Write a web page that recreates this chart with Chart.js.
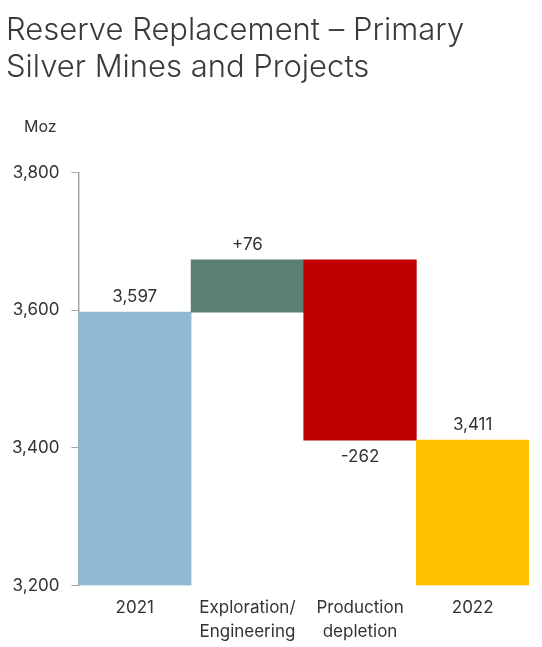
<!DOCTYPE html>
<html>
<head>
<meta charset="utf-8">
<script src="https://cdn.jsdelivr.net/npm/chart.js@4"></script>
<style>
  html, body { margin: 0; padding: 0; background: #fff; }
  #wrap { width: 542px; height: 647px; position: relative; }
</style>
</head>
<body>
<div id="wrap"><canvas id="waterfall"></canvas></div>
<script>
// data
const categories = ["2021", ["Exploration/", "Engineering"], ["Production", "depletion"], "2022"];
const changes = [3597, 76, -262, 3411];     // first and last are totals
const isTotal = [true, false, false, true];
const yTicks = [3200, 3400, 3600, 3800];
const barColors = ["#8FBAD2", "#598072", "#C00000", "#FFC000"];

const FONT = "Inter, 'Liberation Sans', sans-serif";
const TEXT = "#333333";

// turn changes into floating [from, to] ranges
const base = yTicks[0];
let running = 0;
const ranges = changes.map((v, i) => {
  if (isTotal[i]) {
    running = v;
    return [base, v];
  }
  const from = running;
  running += v;
  return [Math.min(from, running), Math.max(from, running)];
});

const fmt = (v, i) => {
  if (isTotal[i]) return v.toLocaleString("en-US");
  return (v > 0 ? "+" : "") + v;
};

// value labels + unit label
const labelPlugin = {
  id: "valueLabels",
  afterDatasetsDraw(chart) {
    const ctx = chart.ctx;
    const meta = chart.getDatasetMeta(0);
    ctx.save();
    ctx.font = "17px " + FONT;
    ctx.fillStyle = TEXT;
    ctx.textAlign = "center";
    ctx.textBaseline = "middle";
    meta.data.forEach((bar, i) => {
      const v = changes[i];
      const props = bar.getProps(["x", "y", "base"], true);
      const top = Math.min(props.y, props.base);
      const bottom = Math.max(props.y, props.base);
      const y = v < 0 ? bottom + 17 : top - 15;
      ctx.fillText(fmt(v, i), props.x, y);
    });
    // unit above the y axis
    ctx.textAlign = "left";
    ctx.font = "16px " + FONT;
    ctx.fillText("Moz", 24, chart.chartArea.top - 45);
    ctx.restore();
  }
};

const ctx = document.getElementById("waterfall").getContext("2d");
const chart = new Chart(ctx, {
  type: "bar",
  data: {
    labels: categories,
    datasets: [
      {
        data: ranges,
        backgroundColor: barColors,
        borderWidth: 0,
        barPercentage: 1,
        categoryPercentage: 1,
      },
    ],
  },
  options: {
    responsive: true,
    maintainAspectRatio: false,
    animation: false,
    layout: {
      padding: { left: 6, right: 13, top: 0, bottom: 0 },
    },
    plugins: {
      legend: { display: false },
      tooltip: { enabled: false },
      title: {
        display: true,
        text: ["Reserve Replacement \u2013 Primary", "Silver Mines and Projects"],
        align: "start",
        color: "#3a3a3a",
        font: { family: FONT, size: 31, weight: "300", lineHeight: 1.2 },
        padding: { top: 12, bottom: 86 },
      },
    },
    scales: {
      x: {
        border: { display: false },
        grid: { display: false },
        ticks: {
          color: TEXT,
          font: { family: FONT, size: 17, lineHeight: 1.4 },
          padding: 3,
          maxRotation: 0,
          autoSkip: false,
        },
      },
      y: {
        min: yTicks[0],
        max: yTicks[yTicks.length - 1],
        afterBuildTicks: (axis) => {
          axis.ticks = yTicks.map((v) => ({ value: v }));
        },
        // keep the plot edge where it was after the extra left padding
        afterFit: (axis) => {
          axis.width -= 6;
        },
        border: { display: true, color: "#a6a6a6", width: 1.5 },
        grid: {
          drawOnChartArea: false,
          drawTicks: true,
          tickLength: 7,
          color: "#a6a6a6",
        },
        ticks: {
          color: TEXT,
          font: { family: FONT, size: 17 },
          padding: 12,
          callback: (v) => v.toLocaleString("en-US"),
        },
      },
    },
  },
  plugins: [labelPlugin],
});
</script>
</body>
</html>
